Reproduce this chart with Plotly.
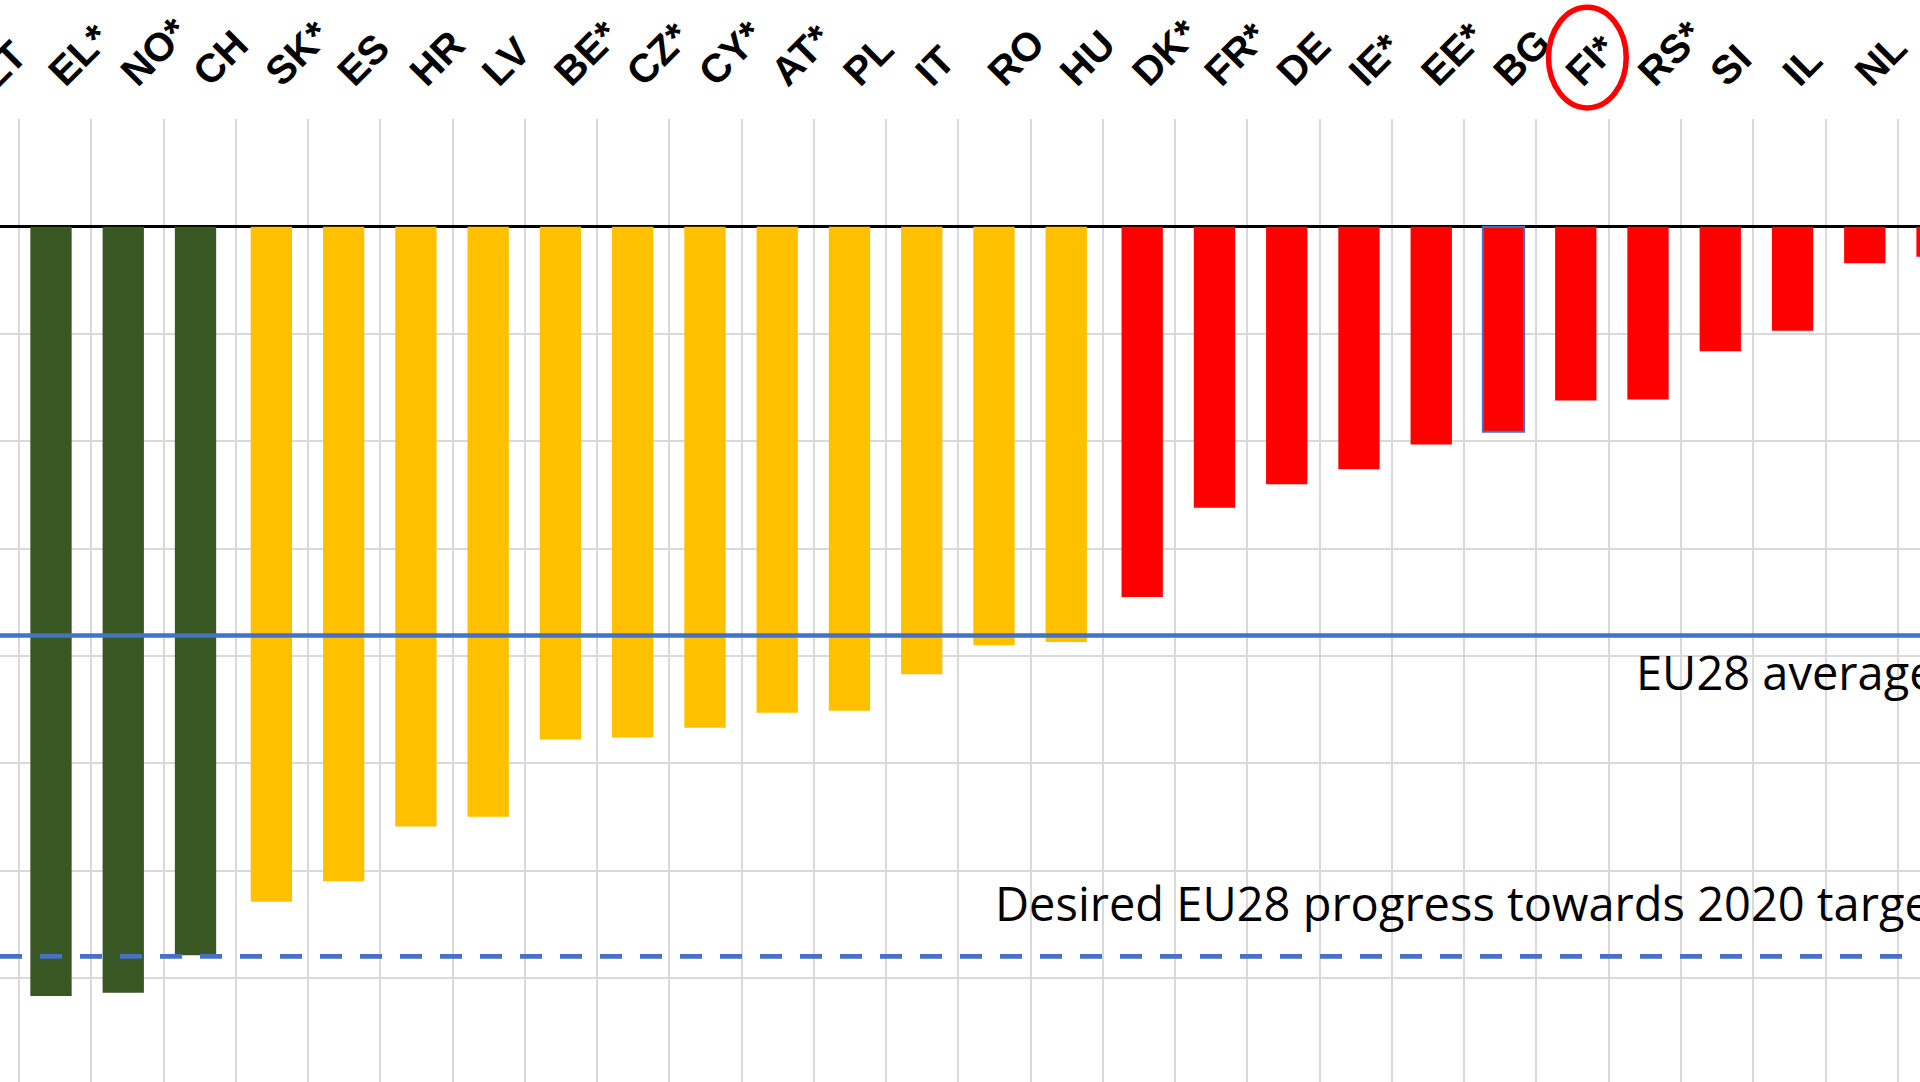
import plotly.graph_objects as go

# ---- data (values in chart grid units; one horizontal gridline = 1 unit) ----
countries = ["LT", "EL*", "NO*", "CH", "SK*", "ES", "HR", "LV", "BE*", "CZ*", "CY*",
             "AT*", "PL", "IT", "RO", "HU", "DK*", "FR*", "DE", "IE*", "EE*", "BG",
             "FI*", "RS*", "SI", "IL", "NL", ""]
values = [None, -7.17, -7.14, -6.79, -6.29, -6.10, -5.59, -5.50, -4.78, -4.76, -4.67,
          -4.53, -4.51, -4.17, -3.90, -3.87, -3.45, -2.62, -2.40, -2.26, -2.03, -1.91,
          -1.62, -1.61, -1.16, -0.97, -0.34, -0.28]
groups = ["green"] * 4 + ["yellow"] * 12 + ["red"] * 12
eu28_average = -3.81
eu28_target_progress = -6.80
highlight = "FI*"
outlined = "BG"

# ---- styling ----
group_colors = {"green": "#385723", "yellow": "#FFC000", "red": "#FF0000"}
group_shift = {"green": 0.0, "yellow": 0.05, "red": 0.101}   # series offset in cluster
bar_width = 0.5716
label_shift = 0.0
positions = list(range(-1, len(countries) - 1))
label_font = dict(family="Liberation Sans", size=40, color="black", weight="bold")

xrange = [-0.7058, 25.865]
W, H, TOP = 1920, 1082, 119

fig = go.Figure()
for g in ["green", "yellow", "red"]:
    idx = [i for i, gg in enumerate(groups) if gg == g]
    fig.add_trace(go.Bar(
        x=[positions[i] for i in idx], y=[values[i] for i in idx],
        width=bar_width, offset=-bar_width / 2 + group_shift[g],
        marker=dict(
            color=group_colors[g],
            line=dict(color=["#4472C4" if countries[i] == outlined else "rgba(0,0,0,0)"
                             for i in idx],
                      width=[2 if countries[i] == outlined else 0 for i in idx])),
        hoverinfo="skip", showlegend=False,
    ))
label_pos = [p + label_shift for p in positions]
fig.add_trace(go.Scatter(
    x=label_pos, y=[0] * len(label_pos), xaxis="x2", mode="markers",
    marker=dict(opacity=0), hoverinfo="skip", showlegend=False,
))

# labels whose tick lies outside the visible range (left edge) as paper annotations
annotations = []
for pos, c in zip(label_pos, countries):
    if pos < xrange[0] and c:
        frac = (pos - xrange[0]) / (xrange[1] - xrange[0])
        annotations.append(dict(
            text=c, xref="paper", x=frac - 10.0 / W, xanchor="left",
            yref="paper", y=1 + (TOP - 99.0) / (H - TOP), yanchor="bottom",
            textangle=-45, showarrow=False, font=label_font))

annotations += [
    dict(text="EU28 average", xref="paper", x=0.8510, xanchor="left",
         yref="y", y=-4.15, yanchor="middle", showarrow=False,
         font=dict(family="Open Sans", size=47, color="black")),
    dict(text="Desired EU28 progress towards 2020 target", xref="paper",
         x=0.5170, xanchor="left", yref="y", y=-6.30, yanchor="middle",
         showarrow=False, font=dict(family="Open Sans", size=47, color="black")),
]

fig.update_layout(
    width=W, height=H,
    margin=dict(l=0, r=0, t=TOP, b=0, pad=0),
    paper_bgcolor="white", plot_bgcolor="white",
    barmode="overlay",
    xaxis=dict(range=xrange, tickmode="linear", tick0=-0.4428, dtick=1,
               showgrid=True, gridcolor="#D9D9D9", gridwidth=2,
               showticklabels=False, zeroline=False, showline=False, ticks=""),
    xaxis2=dict(range=xrange, overlaying="x", side="top",
                tickmode="array", tickvals=label_pos, ticktext=countries,
                tickangle=-45, showgrid=False, zeroline=False, showline=False,
                ticks="", ticklabelstandoff=16, ticklabeloverflow="allow",
                tickfont=label_font),
    yaxis=dict(range=[-7.971, 1.0037], tickmode="linear", tick0=0, dtick=1,
               showgrid=True, gridcolor="#D9D9D9", gridwidth=2,
               zeroline=True, zerolinecolor="black", zerolinewidth=2.5,
               showticklabels=False, showline=False, ticks=""),
    shapes=[
        dict(type="line", xref="paper", x0=0, x1=1, yref="y",
             y0=eu28_average, y1=eu28_average,
             line=dict(color="#4472C4", width=4.5), layer="above"),
        dict(type="line", xref="paper", x0=0, x1=1, yref="y",
             y0=eu28_target_progress, y1=eu28_target_progress,
             line=dict(color="#4472C4", width=4.8, dash="22px,18px"), layer="above"),
        dict(type="circle", xref="paper", yref="paper",
             x0=0.8065, x1=0.8470, y0=1.0115, y1=1.1160,
             line=dict(color="#FF0000", width=5.5), layer="above"),
    ],
    annotations=annotations,
)

fig.write_html("out.html", config={"displayModeBar": False},
               post_script="document.body.style.margin='0';")
